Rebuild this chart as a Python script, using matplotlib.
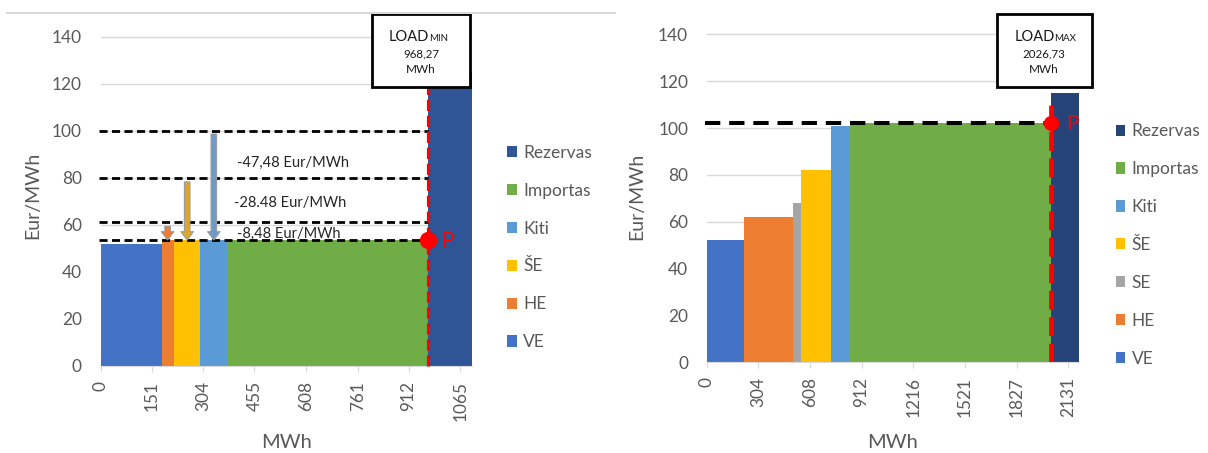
import matplotlib.pyplot as plt
from matplotlib.patches import Rectangle, FancyArrowPatch
from matplotlib.lines import Line2D

plt.rcParams['font.family'] = ['Lato', 'DejaVu Sans']

# --- minimum load case ---
min_sources = ['VE', 'HE', 'ŠE', 'Kiti', 'Importas', 'Rezervas']
min_edges = [0, 181, 216, 294, 378, 968.27, 1100]
min_prices = [52, 53.5, 53.5, 53.5, 53.5, 125]
min_load = 968.27
min_clearing = 53.5
min_offer_levels = [100, 80, 61.3]
min_arrow_x = [198, 256, 335]
min_arrow_top = [59.3, 78.2, 98.6]
min_gap_labels = ['-47,48 Eur/MWh', '-28.48 Eur/MWh', '-8,48 Eur/MWh']
min_xticks = [0, 151, 304, 455, 608, 761, 912, 1065]

# --- maximum load case ---
max_sources = ['VE', 'HE', 'SE', 'ŠE', 'Kiti', 'Importas', 'Rezervas']
max_edges = [0, 220, 506, 555, 734, 844, 2026.73, 2194]
max_prices = [52, 62, 68, 82, 101, 102, 115]
max_load = 2026.73
max_clearing = 102
max_xticks = [0, 304, 608, 912, 1216, 1521, 1827, 2131]

colors = {'VE': '#4472C4', 'HE': '#ED7D31', 'SE': '#A5A5A5', 'ŠE': '#FFC000',
          'Kiti': '#5B9BD5', 'Importas': '#70AD47'}
grey = '#595959'
grid = '#d9d9d9'

fig = plt.figure(figsize=(12.08, 4.53), dpi=100)
ax1 = fig.add_axes([0.0834, 0.1927, 0.3074, 0.7366])
ax2 = fig.add_axes([0.5852, 0.2002, 0.3080, 0.7344])

# thin rule at the top of the left panel
fig.add_artist(Line2D([0.006, 0.509], [0.9706, 0.9706], color=grid, lw=1.5,
                      transform=fig.transFigure))


def merit_order(ax, sources, edges, prices, rez_color, xticks, legend_x, legend_y):
    bars = []
    for i, name in enumerate(sources):
        c = rez_color if name == 'Rezervas' else colors[name]
        b = ax.bar(edges[i], prices[i], width=edges[i + 1] - edges[i], align='edge',
                   color=c, linewidth=0, zorder=2, label=name)
        bars.append(b)
    ax.set_xlim(0, edges[-1])
    ax.set_ylim(0, 142)
    ax.set_yticks(range(0, 141, 20))
    ax.set_xticks(xticks)
    ax.set_xticklabels([str(t) for t in xticks], rotation=90)
    ax.yaxis.grid(True, color=grid, lw=1)
    ax.set_axisbelow(True)
    for s in ['top', 'right', 'left']:
        ax.spines[s].set_visible(False)
    ax.spines['bottom'].set_color(grid)
    ax.tick_params(axis='y', length=0, pad=13.5, labelsize=12.4, labelcolor=grey)
    ax.tick_params(axis='x', length=4, color=grid, pad=6.8, labelsize=12.4,
                   labelcolor=grey)
    ax.set_xlabel('MWh', fontsize=14.5, color=grey)
    ax.set_ylabel('Eur/MWh', fontsize=14, color=grey)
    ax.xaxis.label.set_va('center')
    ax.yaxis.label.set_va('center')
    fig.legend(handles=bars[::-1], loc='center left',
               bbox_to_anchor=(legend_x, legend_y), bbox_transform=fig.transFigure,
               frameon=False, fontsize=12.5, labelcolor=grey, handlelength=0.55,
               handleheight=0.62, handletextpad=0.35, labelspacing=1.26,
               borderpad=0, borderaxespad=0)


def load_box(ax, x0, x1, y0, y1, split_x, sub, value):
    ax.add_patch(Rectangle((x0, y0), x1 - x0, y1 - y0, facecolor='white',
                           edgecolor='black', lw=2, clip_on=False, zorder=7))
    h = y1 - y0
    xc = (x0 + x1) / 2
    ax.text(split_x, y1 - 0.37 * h, 'LOAD', ha='right', va='baseline', fontsize=10.5,
            color='#1a1a1a', zorder=8)
    ax.text(split_x, y1 - 0.37 * h, sub, ha='left', va='baseline', fontsize=7,
            color='#1a1a1a', zorder=8)
    ax.text(xc, y1 - 0.54 * h, value, ha='center', va='center', fontsize=8.3,
            color='#1a1a1a', zorder=8)
    ax.text(xc, y1 - 0.76 * h, 'MWh', ha='center', va='center', fontsize=8.5,
            color='#1a1a1a', zorder=8)


# left panel: LOAD MIN
merit_order(ax1, min_sources, min_edges, min_prices, '#2F5597', min_xticks,
            0.4200, 0.4536)
ax1.xaxis.set_label_coords(0.5, -0.231)
ax1.yaxis.set_label_coords(-0.182, 0.511)

for lvl in min_offer_levels + [min_clearing]:
    ax1.plot([-4, min_load], [lvl, lvl], color='black', lw=2, dashes=(2.9, 1.6),
             zorder=4, clip_on=False)

arrow_faces = ['#ED7D31', '#DDA52A', '#6A9BCB']
for x, top, fc in zip(min_arrow_x, min_arrow_top, arrow_faces):
    ax1.add_patch(FancyArrowPatch((x, top), (x, min_clearing),
                                  arrowstyle='simple,head_length=0.6,head_width=0.9,tail_width=0.4',
                                  mutation_scale=10, facecolor=fc, edgecolor='#9a9a9a',
                                  lw=0.8, shrinkA=0, shrinkB=0, zorder=5))

for lbl, (lx, ly) in zip(min_gap_labels, [(569, 86.4), (561, 69.2), (557, 55.9)]):
    ax1.text(lx, ly, lbl, ha='center', va='center', fontsize=10.5, color='#262626',
             zorder=3)

ax1.plot([min_load, min_load], [0, 118.5], color='#FF0000', lw=2.3, dashes=(3.5, 1.5),
         zorder=5, clip_on=False)
ax1.plot(min_load, min_clearing, 'o', color='#FF0000', ms=11.5, zorder=6, clip_on=False)
ax1.text(min_load + 60, min_clearing - 0.5, 'P', color='#FF0000', fontsize=15,
         ha='center', va='center', zorder=6)
load_box(ax1, 805, 1093, 118.5, 149.7, 972, 'MIN', '968,27')

# right panel: LOAD MAX
merit_order(ax2, max_sources, max_edges, max_prices, '#264478', max_xticks,
            0.9238, 0.4592)
ax2.xaxis.set_label_coords(0.5, -0.242)
ax2.yaxis.set_label_coords(-0.188, 0.5)

ax2.plot([-14, max_load], [max_clearing, max_clearing], color='black', lw=2.9,
         dashes=(3.8, 2.2), zorder=4, clip_on=False)
ax2.plot([max_load, max_load], [0, 112.5], color='#FF0000', lw=3.4, dashes=(4, 1.6),
         zorder=5)
ax2.plot(max_load, max_clearing, 'o', color='#FF0000', ms=10, zorder=6, clip_on=False)
ax2.text(max_load + 128, max_clearing - 0.3, 'P', color='#FF0000', fontsize=15,
         ha='center', va='center', zorder=6, clip_on=False)
load_box(ax2, 1709, 2269, 117.4, 148.7, 2050, 'MAX', '2026,73')

fig.savefig('out.png', dpi=100)
